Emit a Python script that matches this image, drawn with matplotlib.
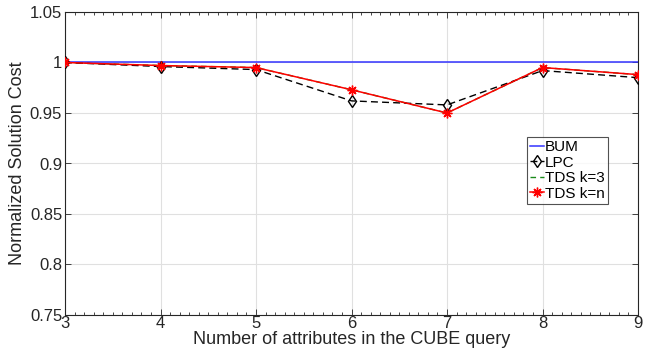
import matplotlib
matplotlib.use("Agg")
import matplotlib.pyplot as plt
from matplotlib.ticker import MultipleLocator

plt.rcParams['font.family'] = ['Liberation Sans', 'DejaVu Sans']

attrs = [3, 4, 5, 6, 7, 8, 9]
bum = [1.0, 1.0, 1.0, 1.0, 1.0, 1.0, 1.0]
lpc = [1.0, 0.996, 0.993, 0.962, 0.958, 0.992, 0.985]
tds_k3 = [1.0, 0.997, 0.995, 0.973, 0.950, 0.995, 0.988]
tds_kn = [1.0, 0.997, 0.995, 0.973, 0.950, 0.995, 0.988]

fig = plt.figure(figsize=(6.57, 3.54), dpi=100)
ax = fig.add_axes([65/657, 1 - 315/354, (638-65)/657, (315-12)/354])

asterisk = (8, 2, 0)

ax.plot(attrs, bum, color='#3333ff', lw=1.1, label='BUM', zorder=3)
ax.plot(attrs, lpc, color='black', ls='--', lw=1.0, marker='d', ms=6,
        mfc='none', mec='black', mew=1.0, label='LPC', zorder=3,
        dashes=(5, 3))
ax.plot(attrs, tds_k3, color='#1a8a1a', ls='--', lw=1.0, label='TDS k=3',
        zorder=2, dashes=(4, 3))
ax.plot(attrs, tds_kn, color='#ff0000', lw=1.1, marker=asterisk, ms=7,
        mec='#ff0000', mew=1.0, label='TDS k=n', zorder=4)

ax.set_xlim(3, 9)
ax.set_ylim(0.75, 1.05)
ax.set_xticks(attrs)
ax.xaxis.set_minor_locator(MultipleLocator(0.1))
ax.set_yticks([0.75, 0.8, 0.85, 0.9, 0.95, 1.0, 1.05])
ax.set_yticklabels(['0.75', '0.8', '0.85', '0.9', '0.95', '1', '1.05'])

ax.grid(True, which='major', color='#e0e0e0', lw=0.8)
ax.set_axisbelow(True)
ax.tick_params(which='both', direction='in', top=True, right=True,
               labelsize=12, colors='#262626', width=0.6)
ax.tick_params(which='major', length=4)
ax.tick_params(which='minor', length=2.5)
ax.tick_params(axis='x', pad=1)
ax.tick_params(axis='y', pad=2)
for s in ax.spines.values():
    s.set_color('#262626')
    s.set_linewidth(0.8)

ax.set_xlabel('Number of attributes in the CUBE query', fontsize=13,
              color='#262626', labelpad=0)
ax.set_ylabel('Normalized Solution Cost', fontsize=13, color='#262626',
              labelpad=3)

leg = ax.legend(loc='upper left', bbox_to_anchor=(0.806, 0.587),
                fontsize=11, frameon=True, fancybox=False,
                handlelength=0.9, handletextpad=0.1, borderpad=0.2,
                labelspacing=0.1, borderaxespad=0)
leg.get_frame().set_edgecolor('#262626')
leg.get_frame().set_linewidth(0.8)

fig.savefig('out.png', dpi=100)
